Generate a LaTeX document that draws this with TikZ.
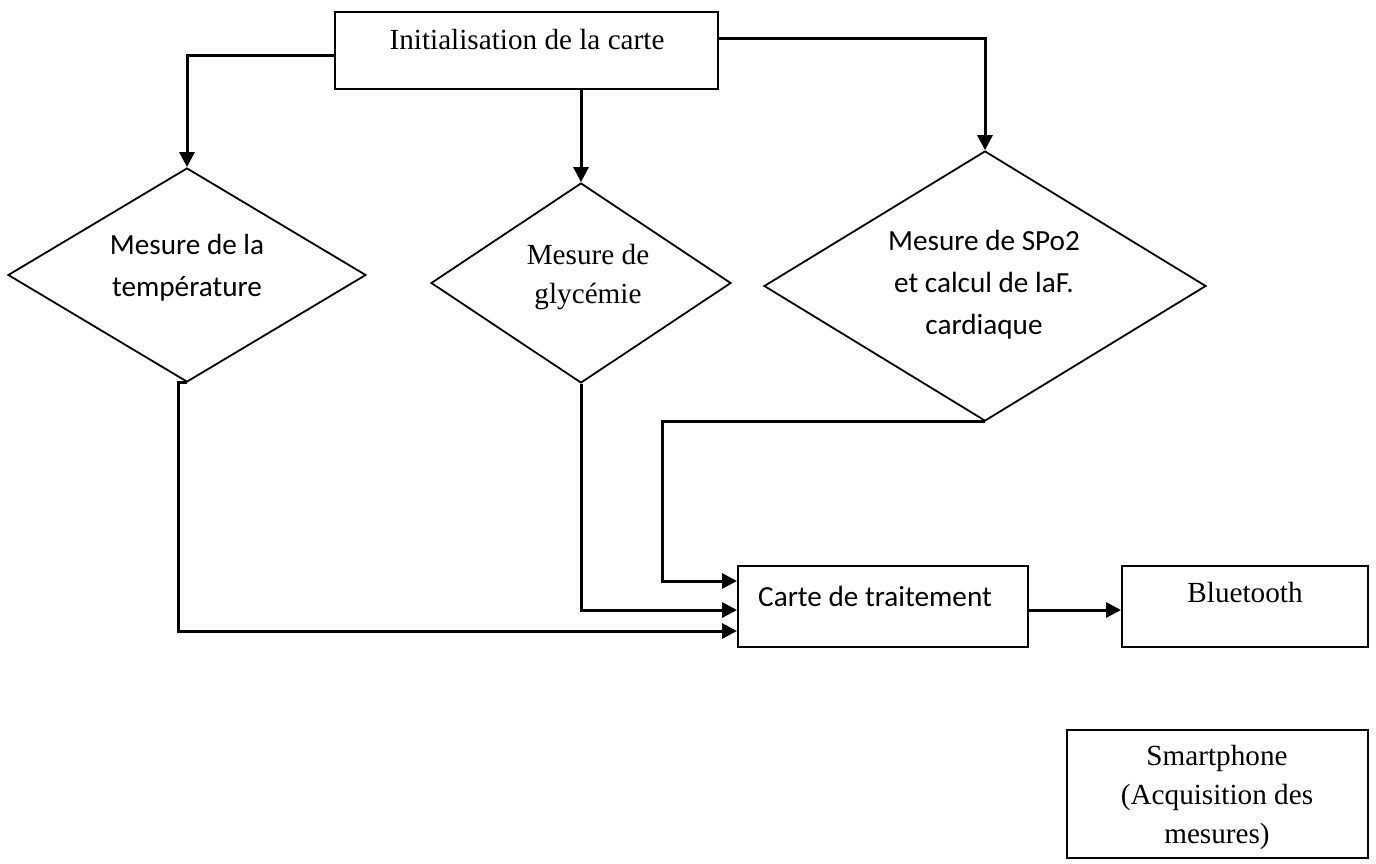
\documentclass[tikz,border=0pt]{standalone}
\usepackage{fontspec}
\setmainfont{Liberation Serif}
\newfontfamily\calibri{Carlito}
\usetikzlibrary{shapes.geometric,arrows.meta}
\begin{document}
\begin{tikzpicture}[x={(0.5pt,0)},y={(0,-0.5pt)},
  box/.style={draw,line width=1pt,inner sep=0pt},
  losange/.style={draw,diamond,line width=0.9pt,inner sep=0pt},
  serif/.style={font=\fontsize{14.6}{19.5}\selectfont,align=center,inner sep=0pt},
  sans/.style={font=\calibri\fontsize{14.6}{21}\selectfont,align=center,inner sep=0pt},
  arr/.style={line width=1.5pt,-{Triangle[length=7.5pt,width=7.5pt]}}]
\useasboundingbox (0,0) rectangle (1376,863);

% boxes
\node[box,minimum width=191.5pt,minimum height=38.5pt] (init) at (526.5,50.5) {};
\node[serif] (initT) at (527,40) {Initialisation de la carte};

\node[box,minimum width=145pt,minimum height=40.5pt] (carte) at (883,606.5) {};
\node[sans] (carteT) at (875,596) {Carte de traitement};

\node[box,minimum width=123pt,minimum height=40.5pt] (bt) at (1245,606.5) {};
\node[serif] (btT) at (1245,593) {Bluetooth};

\node[box,minimum width=150.5pt,minimum height=64pt] (phone) at (1217.5,794) {};
\node[serif] (phoneT) at (1217,797) {Smartphone\\(Acquisition des\\mesures)};

% decisions
\node[losange,minimum width=179pt,minimum height=107pt] (d1) at (187,275) {};
\node[sans] (d1T) at (187,268) {Mesure de la\\température};

\node[losange,minimum width=150pt,minimum height=100pt] (d2) at (581,283) {};
\node[serif] (d2T) at (588,277) {Mesure de\\glycémie};

\node[losange,minimum width=221pt,minimum height=135pt] (d3) at (985,286) {};
\node[sans] (d3T) at (984,285) {Mesure de SPo2\\et calcul de laF.\\cardiaque};

% connectors from the board initialisation
\draw[arr] ([yshift=-2.25pt]init.west) -| (d1.north);
\draw[arr] (init.south -| d2.north) -- (d2.north);
\draw[arr] ([yshift=6.25pt]init.east) -| (d3.north);

% measurements to the processing board
\coordinate (in3) at ([yshift=12.75pt]carte.west);
\coordinate (in1) at ([yshift=-12.25pt]carte.west);
\draw[arr] (d3.south) -- ++(-323,0) |- (in3);
\draw[arr] (d2.south) |- ([yshift=-1.75pt]carte.west);
\draw[arr] (d1.south) -- ++(-9,0) |- (in1);

% processing board to bluetooth
\draw[arr] ([yshift=-1.75pt]carte.east) -- ([yshift=-1.75pt]bt.west);
\end{tikzpicture}
\end{document}
